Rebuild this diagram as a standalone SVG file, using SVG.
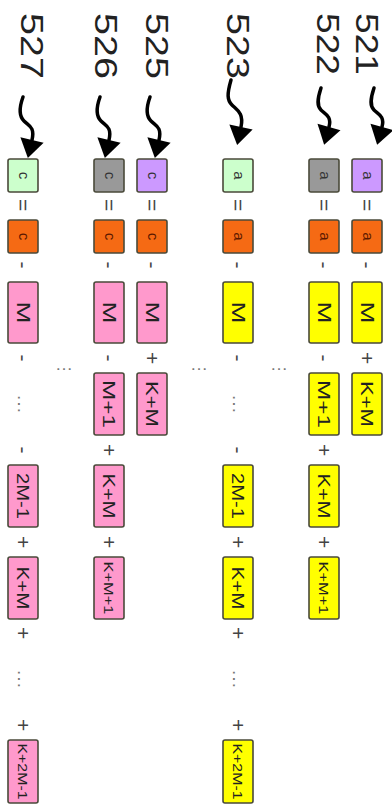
<svg xmlns="http://www.w3.org/2000/svg" width="392" height="808" viewBox="0 0 392 808">
<style>
.bg{fill:#ffffff}
.box{stroke:#4a4a3a;stroke-width:1.6}
.pu{fill:#cc99ff}.gr{fill:#999999}.ge{fill:#ccffcc}.or{fill:#f56a14}.ye{fill:#ffff00}.pk{fill:#ff99cc}
text{font-family:"Liberation Sans",Arial,sans-serif}
.lbl{font-size:31px;fill:#222}
.sm{font-size:15px;fill:#333}
.smo{font-size:15px;fill:#5a1800}
.bt{font-size:16px;fill:#222}
.bm{font-size:18px;fill:#222}
.bs{font-size:13px;fill:#222}
.op{font-size:21px;fill:#444}
.dots{font-size:17px;fill:#777}
.arr{fill:none;stroke:#000;stroke-width:3.5;stroke-linecap:round;stroke-linejoin:round}
</style>
<defs>
<marker id="ah" markerUnits="userSpaceOnUse" markerWidth="26" markerHeight="26" viewBox="-1 -12 19 24" refX="0" refY="0" orient="auto">
<path d="M0,-11 L17,0 L0,11 z" fill="#000"/>
</marker>
</defs>
<rect class="bg" x="0" y="0" width="392" height="808"/>

<g id="labels">
<g id="label-521"><text class="lbl" transform="translate(367,13) rotate(90)" dy="0.36em" textLength="62" lengthAdjust="spacingAndGlyphs">521</text></g>
<g id="label-522"><text class="lbl" transform="translate(328,13) rotate(90)" dy="0.36em" textLength="62" lengthAdjust="spacingAndGlyphs">522</text></g>
<g id="label-523"><text class="lbl" transform="translate(238,13) rotate(90)" dy="0.36em" textLength="66" lengthAdjust="spacingAndGlyphs">523</text></g>
<g id="label-525"><text class="lbl" transform="translate(157,13) rotate(90)" dy="0.36em" textLength="66" lengthAdjust="spacingAndGlyphs">525</text></g>
<g id="label-526"><text class="lbl" transform="translate(106,13) rotate(90)" dy="0.36em" textLength="66" lengthAdjust="spacingAndGlyphs">526</text></g>
<g id="label-527"><text class="lbl" transform="translate(32,13) rotate(90)" dy="0.36em" textLength="66" lengthAdjust="spacingAndGlyphs">527</text></g>
</g>

<g id="connectors">
<path class="arr" marker-end="url(#ah)" d="M374,88 C370,100 370,106 374,110 S385,116 382,127"/>
<path class="arr" marker-end="url(#ah)" d="M321,88 C317,100 317,106 321,110 S332,116 329,127"/>
<path class="arr" marker-end="url(#ah)" d="M231,80 C227,94 227,100 232,105 S244,113 241,127"/>
<path class="arr" marker-end="url(#ah)" d="M150,97 C146,108 146,116 151,121 S162,127 159,140"/>
<path class="arr" marker-end="url(#ah)" d="M100,97 C96,108 96,116 101,121 S112,127 109,140"/>
<path class="arr" marker-end="url(#ah)" d="M23,97 C19,108 19,116 24,121 S35,127 32,140"/>
</g>

<!-- column 521 -->
<g id="n521-a"><rect class="box pu" x="352" y="159" width="30" height="33" rx="2"/><text class="sm" transform="translate(367,175.5) rotate(90)" dy="0.3em" text-anchor="middle">a</text></g>
<g id="n521-a2"><rect class="box or" x="352" y="220" width="30" height="33" rx="2"/><text class="smo" transform="translate(367,236.5) rotate(90)" dy="0.3em" text-anchor="middle">a</text></g>
<g id="n521-M"><rect class="box ye" x="352" y="282" width="30" height="61" rx="2"/><text class="bm" transform="translate(367,312.5) rotate(90)" dy="0.36em" text-anchor="middle" textLength="22" lengthAdjust="spacingAndGlyphs">M</text></g>
<g id="n521-KM"><rect class="box ye" x="352" y="373" width="30" height="62" rx="2"/><text class="bt" transform="translate(367,404) rotate(90)" dy="0.36em" text-anchor="middle" textLength="46" lengthAdjust="spacingAndGlyphs">K+M</text></g>

<!-- column 522 -->
<g id="n522-a"><rect class="box gr" x="309" y="159" width="30" height="33" rx="2"/><text class="sm" transform="translate(324,175.5) rotate(90)" dy="0.3em" text-anchor="middle">a</text></g>
<g id="n522-a2"><rect class="box or" x="309" y="220" width="30" height="33" rx="2"/><text class="smo" transform="translate(324,236.5) rotate(90)" dy="0.3em" text-anchor="middle">a</text></g>
<g id="n522-M"><rect class="box ye" x="309" y="282" width="30" height="61" rx="2"/><text class="bm" transform="translate(324,312.5) rotate(90)" dy="0.36em" text-anchor="middle" textLength="22" lengthAdjust="spacingAndGlyphs">M</text></g>
<g id="n522-M1"><rect class="box ye" x="309" y="373" width="30" height="62" rx="2"/><text class="bt" transform="translate(324,404) rotate(90)" dy="0.36em" text-anchor="middle" textLength="48" lengthAdjust="spacingAndGlyphs">M+1</text></g>
<g id="n522-KM"><rect class="box ye" x="309" y="465" width="30" height="62" rx="2"/><text class="bt" transform="translate(324,496) rotate(90)" dy="0.36em" text-anchor="middle" textLength="45" lengthAdjust="spacingAndGlyphs">K+M</text></g>
<g id="n522-KM1"><rect class="box ye" x="309" y="557" width="30" height="62" rx="2"/><text class="bs" transform="translate(324,588) rotate(90)" dy="0.36em" text-anchor="middle" textLength="53" lengthAdjust="spacingAndGlyphs">K+M+1</text></g>

<!-- column 523 -->
<g id="n523-a"><rect class="box ge" x="223" y="159" width="30" height="33" rx="2"/><text class="sm" transform="translate(238,175.5) rotate(90)" dy="0.3em" text-anchor="middle">a</text></g>
<g id="n523-a2"><rect class="box or" x="223" y="220" width="30" height="33" rx="2"/><text class="smo" transform="translate(238,236.5) rotate(90)" dy="0.3em" text-anchor="middle">a</text></g>
<g id="n523-M"><rect class="box ye" x="223" y="282" width="30" height="61" rx="2"/><text class="bm" transform="translate(238,312.5) rotate(90)" dy="0.36em" text-anchor="middle" textLength="22" lengthAdjust="spacingAndGlyphs">M</text></g>
<g id="n523-2M1"><rect class="box ye" x="223" y="465" width="30" height="62" rx="2"/><text class="bt" transform="translate(238,496) rotate(90)" dy="0.36em" text-anchor="middle" textLength="46" lengthAdjust="spacingAndGlyphs">2M-1</text></g>
<g id="n523-KM"><rect class="box ye" x="223" y="557" width="30" height="62" rx="2"/><text class="bt" transform="translate(238,588) rotate(90)" dy="0.36em" text-anchor="middle" textLength="43" lengthAdjust="spacingAndGlyphs">K+M</text></g>
<g id="n523-K2M1"><rect class="box ye" x="223" y="740" width="30" height="63" rx="2"/><text class="bs" transform="translate(238,771.5) rotate(90)" dy="0.36em" text-anchor="middle" textLength="56" lengthAdjust="spacingAndGlyphs">K+2M-1</text></g>

<!-- column 525 -->
<g id="n525-c"><rect class="box pu" x="137" y="159" width="30" height="33" rx="2"/><text class="sm" transform="translate(152,175.5) rotate(90)" dy="0.3em" text-anchor="middle">c</text></g>
<g id="n525-c2"><rect class="box or" x="137" y="220" width="30" height="33" rx="2"/><text class="smo" transform="translate(152,236.5) rotate(90)" dy="0.3em" text-anchor="middle">c</text></g>
<g id="n525-M"><rect class="box pk" x="137" y="282" width="30" height="61" rx="2"/><text class="bm" transform="translate(152,312.5) rotate(90)" dy="0.36em" text-anchor="middle" textLength="22" lengthAdjust="spacingAndGlyphs">M</text></g>
<g id="n525-KM"><rect class="box pk" x="137" y="373" width="30" height="62" rx="2"/><text class="bt" transform="translate(152,404) rotate(90)" dy="0.36em" text-anchor="middle" textLength="46" lengthAdjust="spacingAndGlyphs">K+M</text></g>

<!-- column 526 -->
<g id="n526-c"><rect class="box gr" x="94" y="159" width="30" height="33" rx="2"/><text class="sm" transform="translate(109,175.5) rotate(90)" dy="0.3em" text-anchor="middle">c</text></g>
<g id="n526-c2"><rect class="box or" x="94" y="220" width="30" height="33" rx="2"/><text class="smo" transform="translate(109,236.5) rotate(90)" dy="0.3em" text-anchor="middle">c</text></g>
<g id="n526-M"><rect class="box pk" x="94" y="282" width="30" height="61" rx="2"/><text class="bm" transform="translate(109,312.5) rotate(90)" dy="0.36em" text-anchor="middle" textLength="22" lengthAdjust="spacingAndGlyphs">M</text></g>
<g id="n526-M1"><rect class="box pk" x="94" y="373" width="30" height="62" rx="2"/><text class="bt" transform="translate(109,404) rotate(90)" dy="0.36em" text-anchor="middle" textLength="48" lengthAdjust="spacingAndGlyphs">M+1</text></g>
<g id="n526-KM"><rect class="box pk" x="94" y="465" width="30" height="62" rx="2"/><text class="bt" transform="translate(109,496) rotate(90)" dy="0.36em" text-anchor="middle" textLength="45" lengthAdjust="spacingAndGlyphs">K+M</text></g>
<g id="n526-KM1"><rect class="box pk" x="94" y="557" width="30" height="62" rx="2"/><text class="bs" transform="translate(109,588) rotate(90)" dy="0.36em" text-anchor="middle" textLength="53" lengthAdjust="spacingAndGlyphs">K+M+1</text></g>

<!-- column 527 -->
<g id="n527-c"><rect class="box ge" x="8" y="159" width="30" height="33" rx="2"/><text class="sm" transform="translate(23,175.5) rotate(90)" dy="0.3em" text-anchor="middle">c</text></g>
<g id="n527-c2"><rect class="box or" x="8" y="220" width="30" height="33" rx="2"/><text class="smo" transform="translate(23,236.5) rotate(90)" dy="0.3em" text-anchor="middle">c</text></g>
<g id="n527-M"><rect class="box pk" x="8" y="282" width="30" height="61" rx="2"/><text class="bm" transform="translate(23,312.5) rotate(90)" dy="0.36em" text-anchor="middle" textLength="22" lengthAdjust="spacingAndGlyphs">M</text></g>
<g id="n527-2M1"><rect class="box pk" x="8" y="465" width="30" height="62" rx="2"/><text class="bt" transform="translate(23,496) rotate(90)" dy="0.36em" text-anchor="middle" textLength="46" lengthAdjust="spacingAndGlyphs">2M-1</text></g>
<g id="n527-KM"><rect class="box pk" x="8" y="557" width="30" height="62" rx="2"/><text class="bt" transform="translate(23,588) rotate(90)" dy="0.36em" text-anchor="middle" textLength="43" lengthAdjust="spacingAndGlyphs">K+M</text></g>
<g id="n527-K2M1"><rect class="box pk" x="8" y="740" width="30" height="63" rx="2"/><text class="bs" transform="translate(23,771.5) rotate(90)" dy="0.36em" text-anchor="middle" textLength="56" lengthAdjust="spacingAndGlyphs">K+2M-1</text></g>

<g id="operators" text-anchor="middle">
<!-- 521 -->
<text class="op" transform="translate(367,205) rotate(90)" dy="0.35em">=</text>
<text class="op" transform="translate(367,265) rotate(90)" dy="0.35em">-</text>
<text class="op" transform="translate(367,358) rotate(90)" dy="0.35em">+</text>
<!-- 522 -->
<text class="op" transform="translate(324,205) rotate(90)" dy="0.35em">=</text>
<text class="op" transform="translate(324,265) rotate(90)" dy="0.35em">-</text>
<text class="op" transform="translate(324,358) rotate(90)" dy="0.35em">-</text>
<text class="op" transform="translate(324,450) rotate(90)" dy="0.35em">+</text>
<text class="op" transform="translate(324,542) rotate(90)" dy="0.35em">+</text>
<!-- 523 -->
<text class="op" transform="translate(238,205) rotate(90)" dy="0.35em">=</text>
<text class="op" transform="translate(238,265) rotate(90)" dy="0.35em">-</text>
<text class="op" transform="translate(238,358) rotate(90)" dy="0.35em">-</text>
<text class="dots" transform="translate(238,404) rotate(90)" dy="0.3em" textLength="20" lengthAdjust="spacingAndGlyphs">…</text>
<text class="op" transform="translate(238,450) rotate(90)" dy="0.35em">-</text>
<text class="op" transform="translate(238,542) rotate(90)" dy="0.35em">+</text>
<text class="op" transform="translate(238,633) rotate(90)" dy="0.35em">+</text>
<text class="dots" transform="translate(238,679) rotate(90)" dy="0.3em" textLength="20" lengthAdjust="spacingAndGlyphs">…</text>
<text class="op" transform="translate(238,725) rotate(90)" dy="0.35em">+</text>
<!-- 525 -->
<text class="op" transform="translate(152,205) rotate(90)" dy="0.35em">=</text>
<text class="op" transform="translate(152,265) rotate(90)" dy="0.35em">-</text>
<text class="op" transform="translate(152,358) rotate(90)" dy="0.35em">+</text>
<!-- 526 -->
<text class="op" transform="translate(109,205) rotate(90)" dy="0.35em">=</text>
<text class="op" transform="translate(109,265) rotate(90)" dy="0.35em">-</text>
<text class="op" transform="translate(109,358) rotate(90)" dy="0.35em">-</text>
<text class="op" transform="translate(109,450) rotate(90)" dy="0.35em">+</text>
<text class="op" transform="translate(109,542) rotate(90)" dy="0.35em">+</text>
<!-- 527 -->
<text class="op" transform="translate(23,205) rotate(90)" dy="0.35em">=</text>
<text class="op" transform="translate(23,265) rotate(90)" dy="0.35em">-</text>
<text class="op" transform="translate(23,358) rotate(90)" dy="0.35em">-</text>
<text class="dots" transform="translate(23,404) rotate(90)" dy="0.3em" textLength="20" lengthAdjust="spacingAndGlyphs">…</text>
<text class="op" transform="translate(23,450) rotate(90)" dy="0.35em">-</text>
<text class="op" transform="translate(23,542) rotate(90)" dy="0.35em">+</text>
<text class="op" transform="translate(23,633) rotate(90)" dy="0.35em">+</text>
<text class="dots" transform="translate(23,679) rotate(90)" dy="0.3em" textLength="20" lengthAdjust="spacingAndGlyphs">…</text>
<text class="op" transform="translate(23,725) rotate(90)" dy="0.35em">+</text>
<!-- horizontal ellipses between groups -->
<text class="dots" x="64" y="370" textLength="18" lengthAdjust="spacingAndGlyphs">…</text>
<text class="dots" x="199" y="370" textLength="18" lengthAdjust="spacingAndGlyphs">…</text>
<text class="dots" x="279" y="370" textLength="18" lengthAdjust="spacingAndGlyphs">…</text>
</g>
</svg>
